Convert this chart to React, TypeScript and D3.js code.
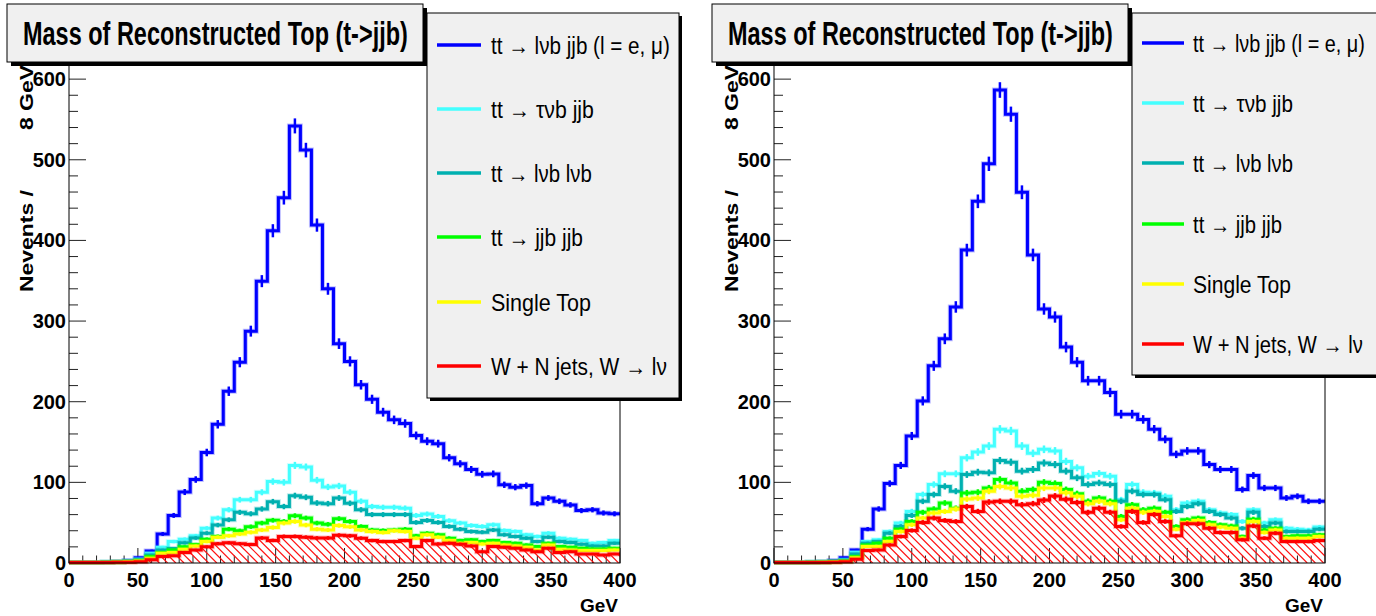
import React, { useLayoutEffect, useRef, useState } from 'react';
import * as d3 from 'd3';

// ---------- axis / category definitions ----------
const binWidthGeV = 8;
const xTickLabels = [0, 50, 100, 150, 200, 250, 300, 350, 400];
const yTickLabels = [0, 100, 200, 300, 400, 500, 600];
const seriesNames = [
  'tt \u2192 l\u03bdb jjb (l = e, \u03bc)',
  'tt \u2192 \u03c4\u03bdb jjb',
  'tt \u2192 l\u03bdb l\u03bdb',
  'tt \u2192 jjb jjb',
  'Single Top',
  'W + N jets, W \u2192 l\u03bd',
];
const titleText = 'Mass of Reconstructed Top (t->jjb)';

// ---------- data: stacked totals per bin ----------
// Left panel
const leftBlue = [0.5,0.5,0.6,0.9,1.6,3,6.6,15,36,59,88,103.5,137,172,213,249,287.5,349.5,412,453,542,512,419,340,272,250,221,203,187,177.5,173,158,151,148,130.5,123,116,110,110.5,97,94,96,73.5,80.6,76.5,72,65,66,62,61];
const leftCyan = [0.5,0.5,0.6,0.9,1.4,2.5,4.5,12,19.5,26.6,29.5,33.7,43,55.7,66,78.5,78.5,87.7,101,100,121,119,102.7,94.3,95.5,87.7,76.5,70,69,69,68,59,60.7,57.8,52.4,49.5,46.5,45.3,47.4,40.3,39,35,32.8,37,30.8,29.5,27.8,24.5,25.4,27.8];
const leftTeal = [0.5,0.5,0.6,0.8,1.3,2.2,4,10,16,18,25,31,37,47,53.6,62.8,61,67,76,70,83.5,81.5,74.4,73.6,80.6,74,66,60,60,60,60,50.3,52.8,50.3,45.3,42,39,38.2,41,35,32.8,30.8,26.6,32,26.6,25.4,23.3,21.2,21.2,24.5];
const leftGreen = [0.5,0.5,0.6,0.8,1.2,2,3,8,13,16,20,23,29.5,33,42,40,45,49.5,53,51.5,58.6,55.7,49.5,48,55,51.5,45.3,41,40.3,41,42,33.7,37,35,30.8,27.8,28.7,26.6,27.8,25.4,24.5,22.4,20.4,24.5,20.4,19.5,18.3,17.5,17.5,18.3];
const leftYellow = [0.5,0.5,0.5,0.6,1,1.5,2.5,6,12,13,17,21,26.6,32,33.7,36,38,41,44,49.5,51.5,47,42,41,46.5,45,41,39,37.8,40,39,30.8,35,32,27.8,24.5,25.4,23.7,24.5,22.4,21.2,19.5,16.2,22.4,17,16.2,15.4,15.4,15.4,16.2];
const leftRed = [0.5,0.5,0.5,0.5,0.8,1,1.5,4,8,9,13,16,20,24,25,24,23,31,28,33,33,32,31,31,34.5,33.7,30.8,27.8,26.6,26.6,27.8,20.4,27.8,23.7,24.5,23.3,21.2,14.1,20.4,19.5,18.3,16.2,14.1,18.3,12.9,14.1,11.2,11.2,10,11.2];

// Right panel
const rightBlue = [0.5,0.5,0.6,1,1.5,3,6.6,16,42,67,98.5,121,157.5,201,244.5,278,317.5,388,448.5,495,586.5,556.5,459.7,382,315,305,267.7,249,226,226,211.5,184.5,184.5,178,166,153.4,134.7,139,139,122,116,116,91,108.5,93,93,80.6,82.7,76.5,76.5];
const rightCyan = [0.5,0.5,0.6,1,1.3,2.2,4,13.3,26.6,28.7,39,49.5,64,84.8,97.3,110.6,110.6,130.5,137.6,145,165.8,163.8,145,136,141,139,126,118,107.6,111,107.6,78.5,97.3,87.7,86.9,82.7,66,74.4,76.5,66,62,60,51.5,66,49.5,53.6,43,42,41,44.5];
const rightTeal = [0.5,0.5,0.6,0.9,1.2,2,3.5,11.2,24.5,26.6,37,45.3,59,76.5,84.8,95,89,109.7,112.6,111.8,127,125,113.9,116,124,122,113.9,105.6,97.3,99.3,97.3,76.5,89,84.8,84.8,78.5,64,70,73.6,64,60,55.7,43,62.8,45.3,49.5,39,39,39,42];
const rightGreen = [0.5,0.5,0.6,0.8,1,1.6,2.5,8,22.4,24.5,30.8,42,51.5,62.8,67,74.4,68,86.9,87.7,93,103.5,99.3,89,91,100,98.5,91,86,76.5,80.6,76.5,57.8,72.3,66,68,62.8,45.3,53.6,55.7,50.3,47.4,46,32.8,54.4,41,43,32.8,33.7,33.7,35];
const rightYellow = [0.5,0.5,0.5,0.6,0.8,1.3,2,6.6,20.4,20.4,26.6,39,47.4,55.7,62,64,67,79.4,80.6,89,95,93,82.7,84,93,93,87,82.7,73.6,76.5,73.6,53.6,68,62.8,64,57.8,42,50.3,52.8,47.4,44.5,43,30.8,51.5,37.8,41,30.8,30.8,30.8,32.8];
const rightRed = [0.5,0.5,0.5,0.5,0.6,1,1.5,4.5,15.4,16.2,22.4,32.8,40.3,50.3,55.7,52.8,51.5,70,64,75.6,76.5,76.5,72.3,73.6,78,83,79,75,62.8,68,62.8,45.3,64,50.3,60,51.5,33.7,48.6,48.6,43,37.8,37.8,28.7,46,30.8,37,26.6,26.6,26.6,27.8];

// ---------- styles / layout ----------
const seriesColors = ['#0000ff', '#44ffff', '#00b0b0', '#00ff00', '#ffff00', '#ff0000'];
const narrow = "'Liberation Sans Narrow', 'Arial Narrow', 'Liberation Sans', Arial, sans-serif";
const wide = "'Liberation Sans', Arial, sans-serif";

const xScale = d3.scaleLinear().domain([0, 400]).range([69, 620]);
const yScale = d3.scaleLinear().domain([0, 620]).range([563, 63]);

const legendTextWidthsLeft = [179, 103, 101, 92, 100, 176];
const legendTextWidthsRight = [172, 100, 100, 89, 98, 170];

// Text squeezed (via a transform) to a target width, so its real box matches
function FitText(props: {
  x: number; y: number; width: number; rotate?: number; anchor?: 'start' | 'end';
  fontFamily: string; fontSize: number; fontWeight?: string; children: string;
}) {
  const ref = useRef<SVGTextElement>(null);
  const [s, setS] = useState(1);
  useLayoutEffect(() => {
    if (ref.current) {
      const w = ref.current.getComputedTextLength();
      if (w > 0) setS(props.width / w);
    }
  }, [props.width, props.children]);
  const rot = props.rotate ? ` rotate(${props.rotate})` : '';
  return (
    <text
      ref={ref}
      transform={`translate(${props.x},${props.y})${rot} scale(${s},1)`}
      textAnchor={props.anchor || 'start'}
      fontFamily={props.fontFamily}
      fontSize={props.fontSize}
      fontWeight={props.fontWeight || 'normal'}
      fill="#000"
    >
      {props.children}
    </text>
  );
}

interface LegendSpec {
  x0: number; x1: number; y0: number; y1: number; rows: number[];
  lineX0: number; lineX1: number; textX: number; widths: number[];
}
interface PanelProps {
  offset: number;
  series: number[][];
  legend: LegendSpec;
  id: string;
}

const stepLine = d3
  .line<number>()
  .x((_, i) => xScale(i * binWidthGeV))
  .y((d) => yScale(d))
  .curve(d3.curveStepAfter);

const stepArea = d3
  .area<number>()
  .x((_, i) => xScale(i * binWidthGeV))
  .y0(yScale(0))
  .y1((d) => yScale(d))
  .curve(d3.curveStepAfter);

function Panel({ offset, series, legend, id }: PanelProps) {
  const minorY = d3.range(0, 601, 20);
  const minorX = d3.range(0, 401, 10);
  const red = series[5];
  const redPts = [...red, red[red.length - 1]];
  const hatchTop = yScale(d3.max(red) || 0) - 4;
  const hatchH = yScale(0) - hatchTop;
  const hatchStarts = d3.range(xScale(0) - hatchH - 8, xScale(400) + 8, 8.2);
  return (
    <g transform={`translate(${offset},0)`}>
      <defs>
        <clipPath id={'redclip' + id}>
          <path d={stepArea(redPts) || ''} />
        </clipPath>
      </defs>
      {/* ticks */}
      {minorY.map((v) => (
        <line key={'yt' + v} x1={xScale(0)} x2={xScale(0) + (v % 100 === 0 ? 17 : 9)} y1={yScale(v)} y2={yScale(v)} stroke="#222" strokeWidth={1} />
      ))}
      {minorX.map((v) => (
        <line key={'xt' + v} x1={xScale(v)} x2={xScale(v)} y1={yScale(0)} y2={yScale(0) - (v % 50 === 0 ? 15 : 7.5)} stroke="#222" strokeWidth={1} />
      ))}
      {/* hatched W+jets fill */}
      <g clipPath={`url(#redclip${id})`}>
        {hatchStarts.map((a, k) => (
          <line key={'h' + k} x1={a} y1={hatchTop} x2={a + hatchH} y2={yScale(0)} stroke="#ff1010" strokeWidth={1.2} />
        ))}
      </g>
      {/* stacked histograms, largest first */}
      {series.map((vals, s) => {
        const pts = [...vals, vals[vals.length - 1]];
        return (
          <g key={id + 's' + s}>
            <path d={stepLine(pts) || ''} fill="none" stroke={seriesColors[s]} strokeOpacity={0.25} strokeWidth={5} />
            <path d={stepLine(pts) || ''} fill="none" stroke={seriesColors[s]} strokeWidth={3} />
            {vals.map((v, i) => {
              const e = 0.4 * Math.sqrt(v);
              const cx = xScale(i * binWidthGeV + binWidthGeV / 2);
              return <line key={i} x1={cx} x2={cx} y1={yScale(v + e)} y2={yScale(Math.max(0, v - e))} stroke={seriesColors[s]} strokeWidth={2.5} />;
            })}
          </g>
        );
      })}
      {/* frame */}
      <rect x={xScale(0)} y={yScale(620)} width={xScale(400) - xScale(0)} height={yScale(0) - yScale(620)} fill="none" stroke="#000" strokeWidth={1} />
      {/* tick labels */}
      {yTickLabels.map((v) => (
        <text key={'yl' + v} x={xScale(0) - 3} y={yScale(v) + 7} textAnchor="end" fontFamily={narrow} fontWeight="bold" fontSize={20} fill="#000">
          {v}
        </text>
      ))}
      {xTickLabels.map((v) => (
        <text key={'xl' + v} x={xScale(v)} y={587} textAnchor="middle" fontFamily={narrow} fontWeight="bold" fontSize={20} fill="#000">
          {v}
        </text>
      ))}
      <text x={618} y={612} textAnchor="end" fontFamily={narrow} fontWeight="bold" fontSize={19} fill="#000">GeV</text>
      <FitText x={33} y={65} rotate={-90} anchor="end" width={65} fontFamily={wide} fontWeight="bold" fontSize={18}>8 GeV</FitText>
      <FitText x={33} y={190} rotate={-90} anchor="end" width={102} fontFamily={wide} fontWeight="bold" fontSize={18}>Nevents /</FitText>
      {/* title box */}
      <rect x={11} y={8} width={416} height={58} fill="#000" />
      <rect x={7} y={4} width={416} height={58} fill="#f0f0f0" stroke="#000" strokeWidth={1} />
      <FitText x={23} y={45} width={385} fontFamily={narrow} fontWeight="bold" fontSize={33}>{titleText}</FitText>
      {/* legend */}
      <rect x={legend.x0 + 3} y={legend.y0 + 3} width={legend.x1 - legend.x0} height={legend.y1 - legend.y0} fill="#000" />
      <rect x={legend.x0} y={legend.y0} width={legend.x1 - legend.x0} height={legend.y1 - legend.y0} fill="#f0f0f0" stroke="#000" strokeWidth={1} />
      {seriesNames.map((name, i) => (
        <g key={'lg' + i}>
          <line x1={legend.lineX0} x2={legend.lineX1} y1={legend.rows[i]} y2={legend.rows[i]} stroke={seriesColors[i]} strokeWidth={3.5} />
          <FitText x={legend.textX} y={legend.rows[i] + 9} width={legend.widths[i]} fontFamily={narrow} fontSize={24}>{name}</FitText>
        </g>
      ))}
    </g>
  );
}

export default function App() {
  const leftSeries = [leftBlue, leftCyan, leftTeal, leftGreen, leftYellow, leftRed];
  const rightSeries = [rightBlue, rightCyan, rightTeal, rightGreen, rightYellow, rightRed];
  return (
    <svg width={1376} height={616} style={{ position: 'fixed', left: 0, top: 0, background: '#fff' }}>
      <rect x={0} y={0} width={1376} height={616} fill="#fff" />
      <Panel
        id="L"
        offset={0}
        series={leftSeries}
        legend={{ x0: 427, x1: 679, y0: 13, y1: 398, rows: [45, 109, 173, 237, 302, 366], lineX0: 437, lineX1: 481, textX: 491, widths: legendTextWidthsLeft }}
      />
      <Panel
        id="R"
        offset={705}
        series={rightSeries}
        legend={{ x0: 427, x1: 680, y0: 13, y1: 375, rows: [43, 103, 163, 224, 284, 344], lineX0: 437, lineX1: 479, textX: 488, widths: legendTextWidthsRight }}
      />
    </svg>
  );
}
